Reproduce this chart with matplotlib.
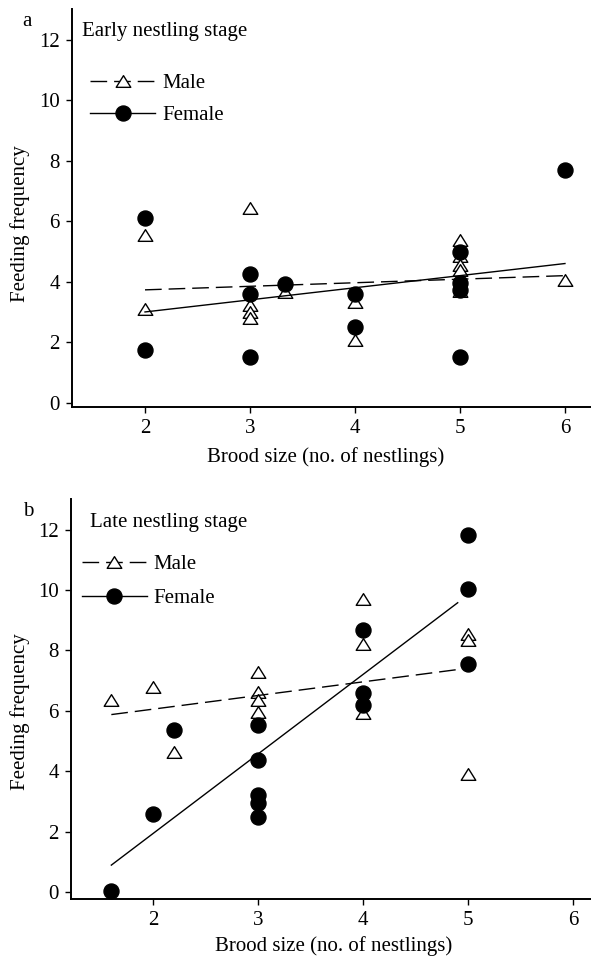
import matplotlib
matplotlib.use("Agg")
import matplotlib.pyplot as plt
from matplotlib.path import Path
from matplotlib.lines import Line2D

plt.rcParams['font.family'] = ['Liberation Serif', 'DejaVu Serif']
plt.rcParams['font.size'] = 15

# Panel a: early nestling stage
a_male_x = [2, 2, 3, 3, 3, 3, 3.33, 4, 4, 5, 5, 5, 5, 5, 6]
a_male_y = [5.55, 3.1, 6.42, 3.23, 3.01, 2.79, 3.67, 3.34, 2.07, 5.37, 4.85, 4.55, 4.4, 3.68, 4.05]
a_female_x = [2, 2, 3, 3, 3, 3.33, 4, 4, 5, 5, 5, 5, 6]
a_female_y = [6.09, 1.74, 4.27, 3.6, 1.52, 3.94, 3.58, 2.51, 4.98, 3.95, 3.72, 1.52, 7.68]
a_fit_x = [2, 6]
a_male_fit = [3.73, 4.2]
a_female_fit = [3.0, 4.6]

# Panel b: late nestling stage
b_male_x = [1.6, 2, 2.2, 3, 3, 3, 3, 4, 4, 4, 5, 5, 5]
b_male_y = [6.36, 6.78, 4.65, 7.29, 6.63, 6.36, 5.97, 9.69, 8.23, 5.94, 8.56, 8.34, 3.93]
b_female_x = [1.6, 2, 2.2, 3, 3, 3, 3, 3, 4, 4, 4, 5, 5, 5]
b_female_y = [0.06, 2.58, 5.37, 5.53, 4.37, 3.22, 2.94, 2.5, 8.67, 6.58, 6.21, 11.83, 10.02, 7.55]
b_fit_x = [1.6, 4.9]
b_male_fit = [5.88, 7.37]
b_female_fit = [0.9, 9.58]

tri = Path([(-1, -0.8), (1, -0.8), (0, 0.8), (-1, -0.8)], closed=True)
dash = (12, 5)

fig = plt.figure(figsize=(5.91, 9.59), dpi=100)
ax_a = fig.add_axes([0.1212, 0.5753, 0.8788, 0.415])
ax_b = fig.add_axes([0.1193, 0.0626, 0.8807, 0.4167])


def draw_panel(ax, mx, my, fx, fy, fit_x, m_fit, f_fit, xlim, ylim):
    # markers first, fitted lines go on top like in the original
    ax.plot(mx, my, ls='none', marker=tri, ms=10.5, mfc='white', mec='black', mew=1.0, zorder=3)
    ax.plot(fx, fy, ls='none', marker='o', ms=10.8, mfc='black', mec='black', zorder=4)
    ax.plot(fit_x, m_fit, color='black', lw=1.0, dashes=dash, zorder=5)
    ax.plot(fit_x, f_fit, color='black', lw=1.0, zorder=5)
    ax.set_xlim(*xlim)
    ax.set_ylim(*ylim)
    ax.set_xticks([2, 3, 4, 5, 6])
    ax.set_yticks([0, 2, 4, 6, 8, 10, 12])
    ax.spines['top'].set_visible(False)
    ax.spines['right'].set_visible(False)
    ax.spines['left'].set_linewidth(1.4)
    ax.spines['bottom'].set_linewidth(1.4)
    ax.tick_params(direction='out', length=4.5, width=1.0, pad=4, labelsize=15)
    ax.set_xlabel('Brood size (no. of nestlings)', fontsize=15, va='center')
    ax.set_ylabel('Feeding frequency', fontsize=15, va='center')


draw_panel(ax_a, a_male_x, a_male_y, a_female_x, a_female_y, a_fit_x, a_male_fit, a_female_fit,
           (1.301, 6.248), (-0.15, 13))
draw_panel(ax_b, b_male_x, b_male_y, b_female_x, b_female_y, b_fit_x, b_male_fit, b_female_fit,
           (1.211, 6.17), (-0.22, 13))

ax_a.xaxis.set_label_coords(0.489, -0.125)
ax_a.yaxis.set_label_coords(-0.1, 0.4606)
ax_b.xaxis.set_label_coords(0.505, -0.119)
ax_b.yaxis.set_label_coords(-0.096, 0.4686)

ax_a.text(0.0194, 0.9437, 'Early nestling stage', transform=ax_a.transAxes, va='center', ha='left')
ax_b.text(0.0384, 0.9415, 'Late nestling stage', transform=ax_b.transAxes, va='center', ha='left')

fig.text(26.7 / 591, 1 - 21.7 / 959, 'a', ha='center', va='center', fontsize=15)
fig.text(28.3 / 591, 1 - 511.7 / 959, 'b', ha='center', va='center', fontsize=15)

handles = [
    Line2D([], [], color='black', lw=1.0, dashes=dash, marker=tri, ms=10.5, mfc='white', mec='black'),
    Line2D([], [], color='black', lw=1.0, marker='o', ms=10.8, mfc='black', mec='black'),
]
for ax, anchor, spacing in [(ax_a, (0.036, 0.774), 0.58), (ax_b, (0.022, 0.794), 0.69)]:
    ax.legend(handles, ['Male', 'Female'], loc='center left', bbox_to_anchor=anchor,
              frameon=False, borderpad=0, borderaxespad=0, handlelength=3.1,
              handletextpad=0.35, labelspacing=spacing, fontsize=15)

fig.savefig('out.png', dpi=100)
